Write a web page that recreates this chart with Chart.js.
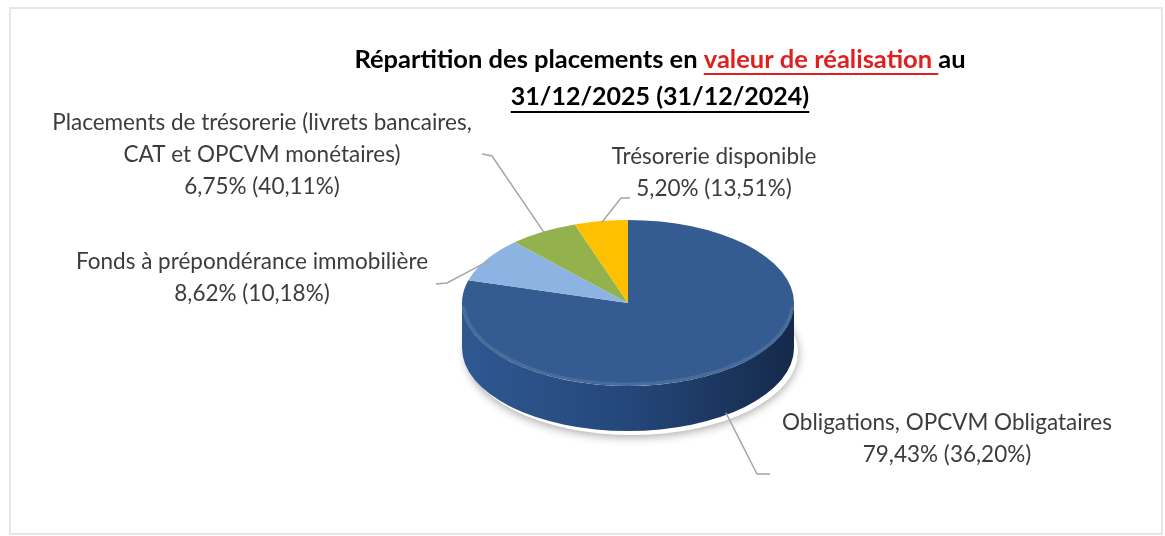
<!DOCTYPE html>
<html>
<head>
<meta charset="utf-8">
<script src="https://cdn.jsdelivr.net/npm/chart.js@4.4.1/dist/chart.umd.min.js"></script>
<style>
  html, body { margin: 0; background: #fff; }
  .chart-wrap { width: 1165px; height: 536px; position: relative; }
</style>
</head>
<body>
<div class="chart-wrap"><canvas id="placementsChart" width="1165" height="536"></canvas></div>
<script>
const categories = [
  ['Obligations, OPCVM Obligataires'],
  ['Fonds à prépondérance immobilière'],
  ['Placements de trésorerie (livrets bancaires,', 'CAT et OPCVM monétaires)'],
  ['Trésorerie disponible']
];
const share2025 = [79.43, 8.62, 6.75, 5.20];
const share2024 = [36.20, 10.18, 40.11, 13.51];

const topColors = ['#345c91', '#8db3e2', '#93b24e', '#ffc000'];
const sideColors = [['#2f5891', '#24477a', '#15294a'], ['#6f93c0', '#6f93c0', '#5d7fa8'],
  ['#76913c', '#76913c', '#617a30'], ['#d9a300', '#d9a300', '#b88a00']];

const TILT = 0.5;
const DEPTH = 45;
const TEXT = '#3c3c3c';
const LABEL_FONT = '22.5px Lato';

// label block centre (x), first line y, then leader elbow and end
const labelLayout = [
  { x: 947, y: 423, elbow: [757, 474], end: [770, 474] },
  { x: 252, y: 262, elbow: [447, 283], end: [436, 284] },
  { x: 262, y: 123, elbow: [492, 156], end: [482, 154] },
  { x: 714, y: 157, elbow: [621, 198], end: [630, 198] }
];

const fmt = (v) => v.toFixed(2).replace('.', ',') + '%';

function frontSpans(s, e) {
  const spans = [];
  for (let k = -1; k <= 2; k++) {
    const a = Math.max(s, 2 * Math.PI * k);
    const b = Math.min(e, 2 * Math.PI * k + Math.PI);
    if (b > a) spans.push([a, b]);
  }
  return spans;
}

const pie3d = {
  id: 'pie3d',
  beforeDatasetsDraw(chart) {
    const { ctx } = chart;
    const arcs = chart.getDatasetMeta(0).data;
    const { x: cx, y: cy, outerRadius: r } = arcs[0];

    // soft shadow under the pie
    ctx.save();
    ctx.beginPath();
    ctx.ellipse(cx + 4, cy + DEPTH + 4, r, r * TILT, 0, 0, Math.PI * 2);
    ctx.fillStyle = '#fff';
    ctx.shadowColor = 'rgba(0,0,0,0.35)';
    ctx.shadowBlur = 10;
    ctx.shadowOffsetY = 2;
    ctx.fill();
    ctx.restore();

    ctx.save();
    arcs.forEach((arc, i) => {
      frontSpans(arc.startAngle, arc.endAngle).forEach(([a1, a2]) => {
        ctx.beginPath();
        ctx.ellipse(cx, cy, r, r * TILT, 0, a1, a2);
        ctx.ellipse(cx, cy + DEPTH, r, r * TILT, 0, a2, a1, true);
        ctx.closePath();
        const g = ctx.createLinearGradient(cx - r, 0, cx + r, 0);
        g.addColorStop(0, sideColors[i][0]);
        g.addColorStop(0.5, sideColors[i][1]);
        g.addColorStop(1, sideColors[i][2]);
        ctx.fillStyle = g;
        ctx.fill();
      });
    });
    ctx.restore();

    ctx.save();
    ctx.translate(0, cy);
    ctx.scale(1, TILT);
    ctx.translate(0, -cy);
  },
  afterDatasetsDraw(chart) {
    const { ctx } = chart;
    ctx.restore();
    // faint bevel along the front rim of the top face
    const arcs = chart.getDatasetMeta(0).data;
    const { x: cx, y: cy, outerRadius: r } = arcs[0];
    ctx.save();
    ctx.beginPath();
    ctx.ellipse(cx, cy, r - 2, r * TILT - 2, 0, 0.05, Math.PI - 0.05);
    ctx.strokeStyle = 'rgba(255,255,255,0.10)';
    ctx.lineWidth = 3;
    ctx.stroke();
    ctx.restore();
  }
};

const pieLabels = {
  id: 'pieLabels',
  afterDraw(chart) {
    const { ctx } = chart;
    const arcs = chart.getDatasetMeta(0).data;
    ctx.save();
    arcs.forEach((arc, i) => {
      const mid = (arc.startAngle + arc.endAngle) / 2;
      const r = arc.outerRadius * 0.98;
      let ax = arc.x + Math.cos(mid) * r;
      let ay = arc.y + Math.sin(mid) * r * TILT;
      if (Math.sin(mid) > 0.2) ay += DEPTH;
      const lay = labelLayout[i];

      ctx.strokeStyle = '#a6a6a6';
      ctx.lineWidth = 1.5;
      ctx.beginPath();
      ctx.moveTo(ax, ay);
      ctx.lineTo(lay.elbow[0], lay.elbow[1]);
      ctx.lineTo(lay.end[0], lay.end[1]);
      ctx.stroke();

      const lines = [...categories[i], `${fmt(share2025[i])} (${fmt(share2024[i])})`];
      ctx.fillStyle = TEXT;
      ctx.font = LABEL_FONT;
      ctx.textAlign = 'center';
      ctx.textBaseline = 'middle';
      lines.forEach((t, j) => ctx.fillText(t, lay.x, lay.y + j * 32));
    });
    ctx.restore();
  }
};

const titleAndFrame = {
  id: 'titleAndFrame',
  afterDraw(chart) {
    const { ctx } = chart;
    ctx.save();
    ctx.strokeStyle = '#e6e6e6';
    ctx.lineWidth = 2;
    ctx.strokeRect(10, 8, 1152, 526);

    ctx.font = 'bold 25.5px Lato';
    ctx.textBaseline = 'middle';
    ctx.textAlign = 'left';
    const cx = 660;
    const parts = [
      ['Répartition des placements en ', '#000', false],
      ['valeur de réalisation ', '#e0201f', true],
      ['au', '#000', false]
    ];
    const total = parts.reduce((s, p) => s + ctx.measureText(p[0]).width, 0);
    let x = cx - total / 2;
    parts.forEach(([t, c, u]) => {
      const w = ctx.measureText(t).width;
      ctx.fillStyle = c;
      ctx.fillText(t, x, 60);
      if (u) {
        ctx.fillRect(x, 73, w, 2);
      }
      x += w;
    });
    ctx.font = 'bold 25px Lato';
    const line2 = '31/12/2025 (31/12/2024)';
    const w2 = ctx.measureText(line2).width;
    ctx.fillStyle = '#000';
    ctx.fillText(line2, cx - w2 / 2, 97);
    ctx.fillRect(cx - w2 / 2, 111, w2, 2);
    ctx.restore();
  }
};

new Chart(document.getElementById('placementsChart'), {
  type: 'pie',
  data: {
    labels: categories,
    datasets: [{
      data: share2025,
      backgroundColor: topColors,
      borderWidth: 0
    }]
  },
  options: {
    responsive: false,
    animation: false,
    events: [],
    layout: { padding: { left: 300, right: 209, top: 137, bottom: 67 } },
    plugins: {
      legend: { display: false },
      tooltip: { enabled: false },
      title: { display: false }
    }
  },
  plugins: [pie3d, pieLabels, titleAndFrame]
});
</script>
</body>
</html>
